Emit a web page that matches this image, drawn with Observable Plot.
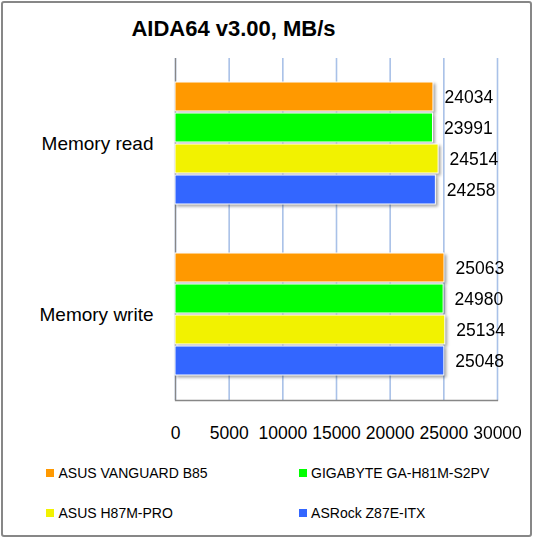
<!DOCTYPE html>
<html>
<head>
<meta charset="utf-8">
<script src="https://cdn.jsdelivr.net/npm/d3@7"></script>
<script src="https://cdn.jsdelivr.net/npm/@observablehq/plot@0.6"></script>
<style>
  body { margin: 0; background: #fff; }
  #chart { position: relative; width: 535px; height: 539px; background: #fff; overflow: hidden;
           font-family: "Liberation Sans", Arial, sans-serif; }
  #border { position: absolute; left: 1px; top: 1px; width: 531px; height: 536px; box-sizing: border-box;
            border: 2px solid #878787; border-radius: 3px; pointer-events: none; }
  #title { position: absolute; left: 0; top: 18px; width: 467px; text-align: center; font-weight: bold;
           font-size: 22px; line-height: 22px; color: #000; }
  #plot { position: absolute; left: 0; top: 0; }
  .lg { position: absolute; display: flex; align-items: center; font-size: 14px; color: #000; height: 16px; white-space: nowrap; }
  .lg .sw { width: 8px; height: 8px; margin-right: 4.5px; flex: none; }
</style>
</head>
<body>
<div id="chart">
  <div id="plot"></div>
  <div id="title"></div>
  <div id="legend"></div>
  <div id="border"></div>
</div>
<script>
const title = "AIDA64 v3.00, MB/s";
const categories = ["Memory read", "Memory write"];
const series = ["ASUS VANGUARD B85", "GIGABYTE GA-H81M-S2PV", "ASUS H87M-PRO", "ASRock Z87E-ITX"];
const readValues = [24034, 23991, 24514, 24258];
const writeValues = [25063, 24980, 25134, 25048];
const colors = ["#FF9900", "#00FF00", "#F2F200", "#3366FF"];
const xTicks = [0, 5000, 10000, 15000, 20000, 25000, 30000];

const valuesByCategory = [readValues, writeValues];
const data = [];
categories.forEach((c, i) => {
  series.forEach((s, j) => data.push({category: c, series: s, value: valuesByCategory[i][j]}));
});

document.getElementById("title").textContent = title;

const plot = Plot.plot({
  width: 535,
  height: 455,
  marginLeft: 175,
  marginRight: 38,
  marginTop: 57,
  marginBottom: 55,
  style: {fontFamily: '"Liberation Sans", Arial, sans-serif', fontSize: "17.5px", color: "#000", background: "transparent", overflow: "visible"},
  x: {domain: [0, 30000]},
  y: {domain: series, axis: null, paddingInner: 0.05, paddingOuter: 0.78},
  fy: {domain: categories, padding: 0},
  color: {domain: series, range: colors},
  marks: [
    Plot.gridX(xTicks, {stroke: "#a9c1e8", strokeOpacity: 1, strokeWidth: 1.6}),
    Plot.ruleX([0], {stroke: "#878787", strokeWidth: 1.3}),
    Plot.frame({anchor: "bottom", fy: "Memory write", stroke: "#878787", strokeWidth: 1.3}),
    Plot.barX(data, {x: "value", y: "series", fy: "category", fill: "series", stroke: "#fff", strokeWidth: 1}),
    Plot.text(data, {x: "value", y: "series", fy: "category", text: d => String(d.value), dx: 11, textAnchor: "start", fill: "#000", fontSize: 17.5}),
    Plot.axisX({ticks: xTicks, tickFormat: d => String(d), tickSize: 0, tickPadding: 26, fontSize: 17.5, label: null, fill: "#000"}),
    Plot.axisFy({anchor: "left", tickSize: 0, tickPadding: 22, fontSize: 19, label: null, fill: "#000"})
  ]
});
plot.querySelectorAll('g[aria-label="bar"]').forEach(g => {
  g.style.filter = "drop-shadow(2px 2.5px 1.5px rgba(0,0,0,0.35))";
});
document.getElementById("plot").appendChild(plot);

// legend
const legend = document.getElementById("legend");
const lgPos = [[46, 473], [298.6, 473], [46, 513], [298.6, 513]];
series.forEach((s, i) => {
  const item = document.createElement("div");
  item.className = "lg";
  item.style.left = lgPos[i][0] + "px";
  item.style.top = (lgPos[i][1] - 8) + "px";
  const sw = document.createElement("span");
  sw.className = "sw";
  sw.style.background = colors[i];
  const tx = document.createElement("span");
  tx.textContent = s;
  item.appendChild(sw);
  item.appendChild(tx);
  legend.appendChild(item);
});
</script>
</body>
</html>
